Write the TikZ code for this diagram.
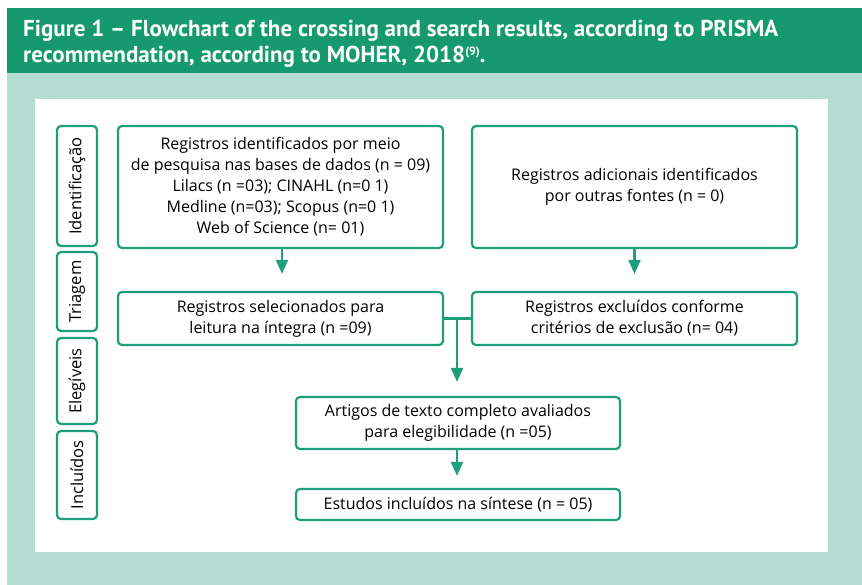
\documentclass[tikz,border=0pt]{standalone}
\usepackage{fontspec}
\setmainfont{Open Sans}
\newfontfamily\titlefont{PT Sans}
\usetikzlibrary{arrows.meta}
\definecolor{titlegreen}{HTML}{17996F}
\definecolor{bggreen}{HTML}{B3DED1}
\definecolor{linegreen}{HTML}{1E9E7B}
\tikzset{
  box/.style={draw=linegreen, line width=2.2pt, rounded corners=4pt, fill=white,
    align=center, inner sep=2pt, font=\fontsize{16}{21}\selectfont, text=black},
  sidebox/.style={draw=linegreen, line width=2.2pt, rounded corners=4pt, fill=white,
    minimum width=40pt},
  sidetext/.style={rotate=90, font=\fontsize{16.5}{18}\selectfont, text=black, inner sep=0pt},
  flow/.style={draw=linegreen, line width=2.2pt, -{Triangle[width=12pt,length=14pt]}},
  link/.style={draw=linegreen, line width=2.2pt},
  titletext/.style={anchor=base west, text=white, inner sep=0pt,
    font=\titlefont\bfseries\fontsize{23}{25}\selectfont}
}
\begin{document}
\begin{tikzpicture}[x=1pt,y=-1pt]
\useasboundingbox (0,0) rectangle (862,585);
\fill[white] (0,0) rectangle (862,585);
\fill[bggreen] (7,72) rectangle (862,585);
\fill[titlegreen] (7,8) rectangle (862,73);
\fill[white] (35,99) rectangle (828,552);
\node[titletext] (t1) at (23,37)
  {Figure 1 \textendash{} Flowchart of the crossing and search results, according to PRISMA};
\node[titletext] (t2) at (23,63)
  {recommendation, according to MOHER, 2018\raisebox{7pt}{\fontsize{12}{12}\selectfont(9)}.};
% side labels
\node[sidebox, minimum height=120pt] (s1) at (77,186) {};
\node[sidetext] (s1t) at (77,186) {Identificação};
\node[sidebox, minimum height=79pt] (s2) at (77,291.5) {};
\node[sidetext] (s2t) at (77,291.5) {Triagem};
\node[sidebox, minimum height=86pt] (s3) at (77,381) {};
\node[sidetext] (s3t) at (77,381) {Elegíveis};
\node[sidebox, minimum height=88pt] (s4) at (77,475) {};
\node[sidetext] (s4t) at (77,475) {Incluídos};
% boxes
\node[box, minimum width=325pt, minimum height=122pt] (b1) at (280.5,187)
  {Registros identificados por meio\\de pesquisa nas bases de dados (n = 09)\\Lilacs (n =03); CINAHL (n=0 1)\\Medline (n=03); Scopus (n=0 1)\\Web of Science (n= 01)};
\node[box, minimum width=325pt, minimum height=122pt] (b2) at (634.5,187)
  {Registros adicionais identificados\\por outras fontes (n = 0)};
\node[box, minimum width=325pt, minimum height=53pt] (b3) at (280.5,318.5)
  {Registros selecionados para\\leitura na íntegra (n =09)};
\node[box, minimum width=325pt, minimum height=53pt] (b4) at (634.5,318.5)
  {Registros excluídos conforme\\critérios de exclusão (n= 04)};
\node[box, minimum width=324pt, minimum height=52pt] (b5) at (458,423)
  {Artigos de texto completo avaliados\\para elegibilidade (n =05)};
\node[box, minimum width=324pt, minimum height=31pt] (b6) at (458,504.5)
  {Estudos incluídos na síntese (n = 05)};
% connectors
\draw[flow, shorten >=17pt] (b1.south -| 282,0) -- (b3.north -| 282,0);
\draw[flow, shorten >=17pt] (b2.south) -- (b4.north);
\draw[link] (b3.east) -- (b4.west);
\coordinate (j) at (457,318.5);
\draw[flow, shorten >=14pt] (j) -- (b5.north -| j);
\draw[flow, shorten >=12pt] (b5.south -| j) -- (b6.north -| j);
\end{tikzpicture}
\end{document}
